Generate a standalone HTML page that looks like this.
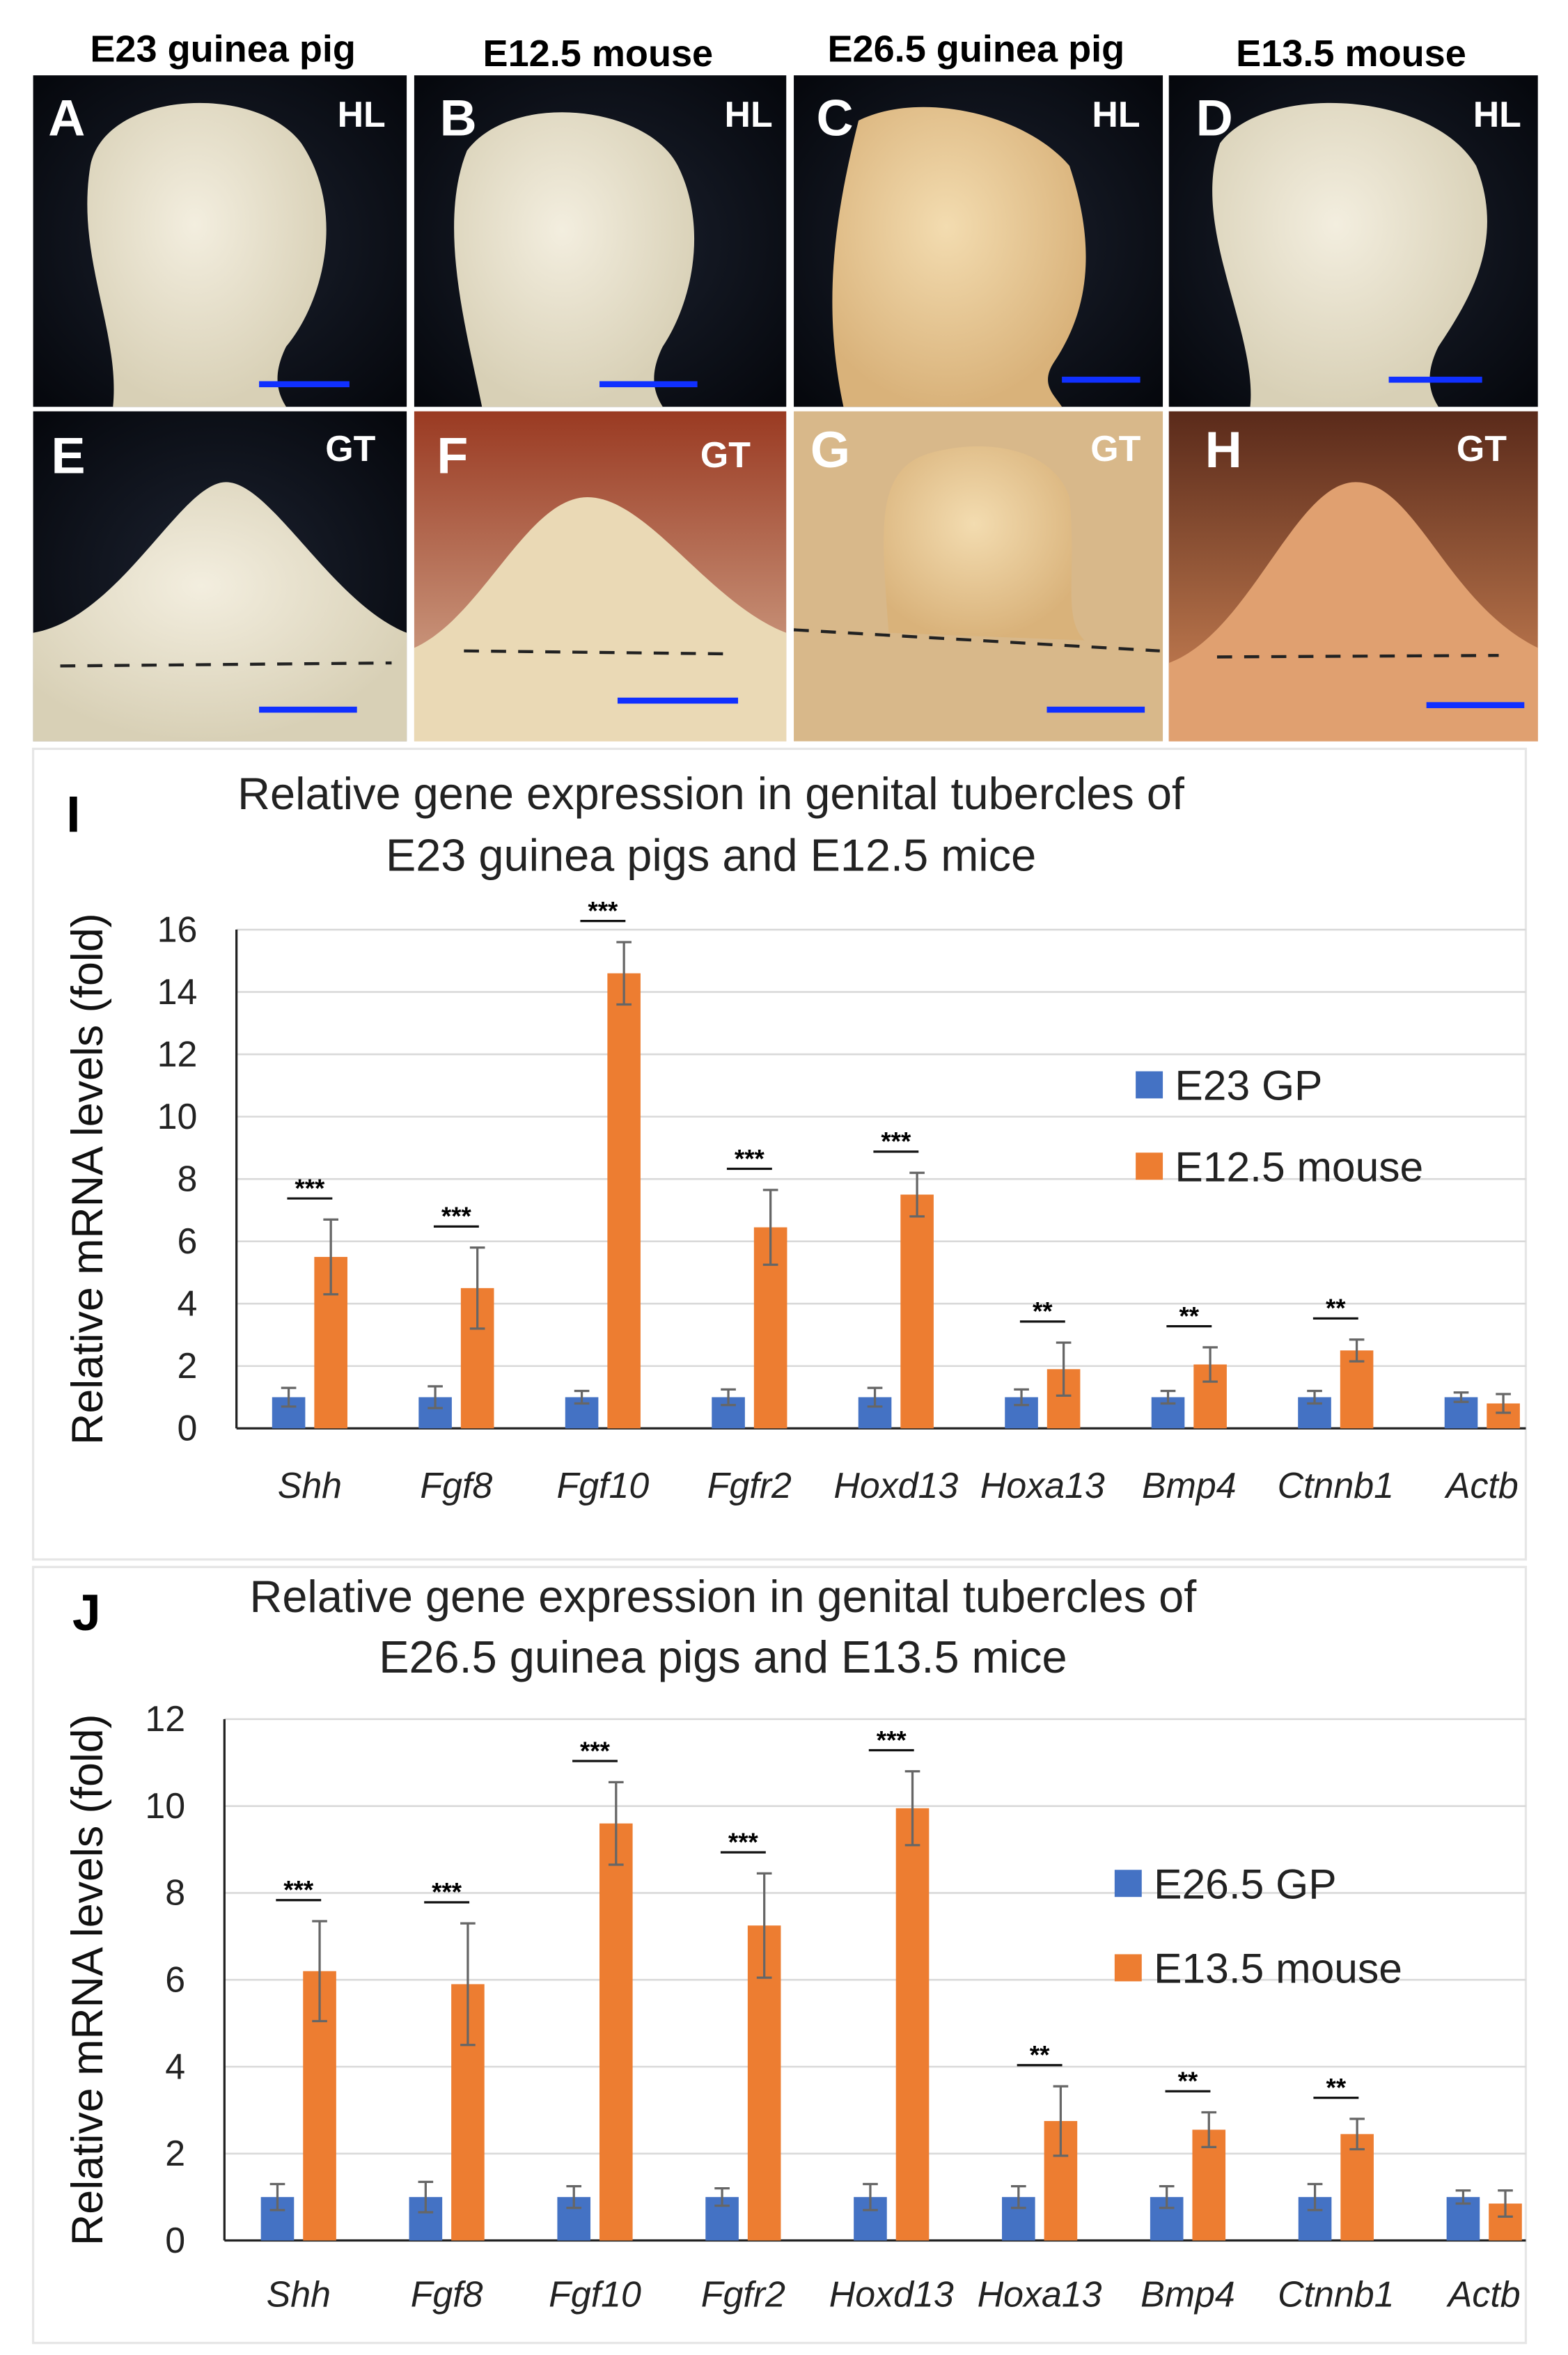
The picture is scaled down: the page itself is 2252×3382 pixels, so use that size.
<!DOCTYPE html>
<html><head><meta charset="utf-8"><style>
html,body{margin:0;padding:0;background:#fff}
svg{display:block}
text{font-family:"Liberation Sans",sans-serif}
</style></head><body>
<svg id="fig" width="2252" height="3382" viewBox="0 0 1041 1563" preserveAspectRatio="none" xmlns="http://www.w3.org/2000/svg">
<defs>
<radialGradient id="darkbg" cx="50%" cy="50%" r="70%"><stop offset="0" stop-color="#1c2230"/><stop offset="1" stop-color="#05070c"/></radialGradient>
<radialGradient id="cream" cx="45%" cy="40%" r="60%"><stop offset="0" stop-color="#f3eedf"/><stop offset="1" stop-color="#d8d0b6"/></radialGradient>
<radialGradient id="tan" cx="45%" cy="40%" r="60%"><stop offset="0" stop-color="#f3dcb0"/><stop offset="1" stop-color="#d9b27a"/></radialGradient>
<linearGradient id="redbg" x1="0" y1="0" x2="0" y2="1"><stop offset="0" stop-color="#9a3a22"/><stop offset="1" stop-color="#d9b49a"/></linearGradient>
<linearGradient id="redbg2" x1="0" y1="0" x2="0" y2="1"><stop offset="0" stop-color="#5a2a1a"/><stop offset="1" stop-color="#d48a5a"/></linearGradient>
</defs>
<g id="photos">
  <g>
    <rect x="22" y="50" width="248" height="220" fill="url(#darkbg)"/>
    <path d="M75,270 C80,220 50,170 60,110 C70,60 170,55 200,95 C230,140 215,200 190,230 C180,250 185,262 190,270 Z" fill="url(#cream)"/>
    <rect x="172" y="253" width="60" height="4" fill="#1030ff"/>
  </g>
  <g>
    <rect x="275" y="50" width="247" height="220" fill="url(#darkbg)"/>
    <path d="M320,270 C310,220 290,150 310,100 C340,60 430,70 450,110 C470,150 460,200 440,230 C430,250 435,262 440,270 Z" fill="url(#cream)"/>
    <rect x="398" y="253" width="65" height="4" fill="#1030ff"/>
  </g>
  <g>
    <rect x="527" y="50" width="245" height="220" fill="url(#darkbg)"/>
    <path d="M560,270 C545,200 555,140 570,80 C610,60 680,75 710,110 C730,170 720,210 700,240 C690,255 700,262 705,270 Z" fill="url(#tan)"/>
    <rect x="705" y="250" width="52" height="4" fill="#1030ff"/>
  </g>
  <g>
    <rect x="776" y="50" width="245" height="220" fill="url(#darkbg)"/>
    <path d="M830,270 C835,220 790,150 810,95 C840,55 950,60 980,110 C1000,160 975,200 955,230 C945,250 950,262 955,270 Z" fill="url(#cream)"/>
    <rect x="922" y="250" width="62" height="4" fill="#1030ff"/>
  </g>
  <g>
    <rect x="22" y="273" width="248" height="219" fill="url(#darkbg)"/>
    <path d="M22,492 L22,420 C80,410 120,320 150,320 C180,320 220,400 270,420 L270,492 Z" fill="url(#cream)"/>
    <line x1="40" y1="442" x2="260" y2="440" stroke="#222" stroke-width="2" stroke-dasharray="10,8"/>
    <rect x="172" y="469" width="65" height="4" fill="#1030ff"/>
  </g>
  <g>
    <rect x="275" y="273" width="247" height="219" fill="url(#redbg)"/>
    <path d="M275,492 L275,430 C320,410 350,330 390,330 C430,330 470,400 522,420 L522,492 Z" fill="#ead9b5"/>
    <line x1="308" y1="432" x2="485" y2="434" stroke="#222" stroke-width="2" stroke-dasharray="10,8"/>
    <rect x="410" y="463" width="80" height="4" fill="#1030ff"/>
  </g>
  <g>
    <rect x="527" y="273" width="245" height="219" fill="#d8b88a"/>
    <path d="M590,420 C585,350 580,310 620,300 C660,290 700,300 710,330 C715,380 705,410 720,425 Z" fill="url(#tan)"/>
    <line x1="527" y1="418" x2="770" y2="432" stroke="#222" stroke-width="2" stroke-dasharray="10,8"/>
    <rect x="695" y="469" width="65" height="4" fill="#1030ff"/>
  </g>
  <g>
    <rect x="776" y="273" width="245" height="219" fill="url(#redbg2)"/>
    <path d="M776,492 L776,440 C830,420 860,320 900,320 C940,320 960,400 1021,430 L1021,492 Z" fill="#e0a070"/>
    <line x1="808" y1="436" x2="995" y2="435" stroke="#222" stroke-width="2" stroke-dasharray="10,8"/>
    <rect x="947" y="466" width="65" height="4" fill="#1030ff"/>
  </g>
  <g font-weight="bold" fill="#fff">
    <text x="32" y="90" font-size="34">A</text><text x="292" y="90" font-size="34">B</text>
    <text x="542" y="90" font-size="34">C</text><text x="794" y="90" font-size="34">D</text>
    <text x="34" y="314" font-size="34">E</text><text x="290" y="314" font-size="34">F</text>
    <text x="538" y="310" font-size="34">G</text><text x="800" y="310" font-size="34">H</text>
    <text x="224" y="84" font-size="24">HL</text><text x="481" y="84" font-size="24">HL</text>
    <text x="725" y="84" font-size="24">HL</text><text x="978" y="84" font-size="24">HL</text>
    <text x="216" y="306" font-size="24">GT</text><text x="465" y="310" font-size="24">GT</text>
    <text x="724" y="306" font-size="24">GT</text><text x="967" y="306" font-size="24">GT</text>
  </g>
  <g font-weight="bold" fill="#000" font-size="25" text-anchor="middle">
    <text x="148" y="41">E23 guinea pig</text><text x="397" y="44">E12.5 mouse</text>
    <text x="648" y="41">E26.5 guinea pig</text><text x="897" y="44">E13.5 mouse</text>
  </g>
</g>
<rect x="22" y="497" width="991" height="538" fill="none" stroke="#e6e6e6" stroke-width="1.5"/>
<rect x="22" y="1040" width="991" height="515" fill="none" stroke="#e6e6e6" stroke-width="1.5"/>
<text x="44" y="552" font-size="34" font-weight="bold">I</text>
<text x="48" y="1082" font-size="34" font-weight="bold">J</text>
<g id="chartI"></g>
<g id="chartJ"></g>
</svg>
<script>
const categories = ["Shh","Fgf8","Fgf10","Fgfr2","Hoxd13","Hoxa13","Bmp4","Ctnnb1","Actb"];
const iBlue = [1,1,1,1,1,1,1,1,1];
const iBlueErr = [0.3,0.35,0.2,0.25,0.3,0.25,0.2,0.2,0.15];
const iOrange = [5.5,4.5,14.6,6.45,7.5,1.9,2.05,2.5,0.8];
const iOrangeErr = [1.2,1.3,1.0,1.2,0.7,0.85,0.55,0.35,0.3];
const iSig = ["***","***","***","***","***","**","**","**",""];
const iTicks = [0,2,4,6,8,10,12,14,16];
const jBlue = [1,1,1,1,1,1,1,1,1];
const jBlueErr = [0.3,0.35,0.25,0.2,0.3,0.25,0.25,0.3,0.15];
const jOrange = [6.2,5.9,9.6,7.25,9.95,2.75,2.55,2.45,0.85];
const jOrangeErr = [1.15,1.4,0.95,1.2,0.85,0.8,0.4,0.35,0.3];
const jSig = ["***","***","***","***","***","**","**","**",""];
const jTicks = [0,2,4,6,8,10,12];

const NS="http://www.w3.org/2000/svg";
function mk(parent,tag,attrs,txt){const e=document.createElementNS(NS,tag);for(const k in attrs)e.setAttribute(k,attrs[k]);if(txt!==undefined)e.textContent=txt;parent.appendChild(e);return e;}

function drawChart(g,cfg){
  const yScale=v=>cfg.y0-(v/cfg.ymax)*(cfg.y0-cfg.ytop);
  const xC=i=>cfg.x1+(i+0.5)*cfg.step;
  cfg.title.forEach((t,k)=>{const e=mk(g,'text',{x:cfg.titleX[k],y:cfg.titleY[k],'font-size':30,'text-anchor':'middle',fill:'#222'},t);
    
    });
  cfg.ticks.forEach(t=>{const y=yScale(t);
    if(t>0){const l=mk(g,'line',{x1:cfg.x0,x2:1013,y1:y,y2:y,stroke:'#d9d9d9','stroke-width':1.2});
      
      }
    const e=mk(g,'text',{x:cfg.x0-26,y:y+8,'font-size':24,'text-anchor':'end',fill:'#222'},String(t));
    
    });
  const ax=mk(g,'line',{x1:cfg.x0,x2:cfg.x0,y1:cfg.ytop,y2:cfg.y0,stroke:'#222','stroke-width':1.5});
  
  
  const xa=mk(g,'line',{x1:cfg.x0,x2:1013,y1:cfg.y0,y2:cfg.y0,stroke:'#222','stroke-width':1.5});
  
  
  const yl=mk(g,'text',{x:0,y:0,'font-size':29,'text-anchor':'middle',fill:'#111',transform:`translate(${cfg.ylabX},${(cfg.y0+cfg.ytop)/2}) rotate(-90)`},'Relative mRNA levels (fold)');
  
  
  const bw=22;
  categories.forEach((c,i)=>{
    const cx=xC(i);
    const bx=cx-25, ox=cx+3;
    const b=mk(g,'rect',{x:bx,y:yScale(cfg.blue[i]),width:bw,height:cfg.y0-yScale(cfg.blue[i]),fill:'#4472c4'});
    
    
    const o=mk(g,'rect',{x:ox,y:yScale(cfg.orange[i]),width:bw,height:cfg.y0-yScale(cfg.orange[i]),fill:'#ed7d31'});
    
    
    [[bx+bw/2,cfg.blue[i],cfg.blueErr[i]],[ox+bw/2,cfg.orange[i],cfg.orangeErr[i]]].forEach(([x,v,e])=>{
      const eg=mk(g,'path',{d:`M${x},${yScale(v+e)}V${yScale(v-e)}M${x-5},${yScale(v+e)}H${x+5}M${x-5},${yScale(v-e)}H${x+5}`,stroke:'#666','stroke-width':1.5,fill:'none'});
      
      });
    if(cfg.sig[i]){const yt=yScale(cfg.orange[i]+cfg.orangeErr[i])-14;
      const ln=mk(g,'line',{x1:cx-15,x2:cx+15,y1:yt,y2:yt,stroke:'#111','stroke-width':1.5});
      
      
      const st=mk(g,'text',{x:cx,y:yt-1,'font-size':17,'font-weight':'bold','text-anchor':'middle'},cfg.sig[i]);
      
      }
    const lb=mk(g,'text',{x:cx,y:cfg.labY,'font-size':24,'font-style':'italic','text-anchor':'middle',fill:'#222'},c);
    
    
  });
  cfg.legend.forEach((t,k)=>{
    const y=cfg.legY[k];
    const r=mk(g,'rect',{x:cfg.legX,y:y-9,width:18,height:18,fill:k?'#ed7d31':'#4472c4'});
    
    
    const e=mk(g,'text',{x:cfg.legX+26,y:y+10,'font-size':28,fill:'#222'},t);
    
    
  });
}
drawChart(document.getElementById('chartI'),{x0:157,x1:157,step:97.3,y0:948,ytop:617,ymax:16,ticks:iTicks,
  blue:iBlue,blueErr:iBlueErr,orange:iOrange,orangeErr:iOrangeErr,sig:iSig,labY:994,ylabX:68,
  title:["Relative gene expression in genital tubercles of","E23 guinea pigs and E12.5 mice"],titleX:[472,472],titleY:[537,578],
  legend:["E23 GP","E12.5 mouse"],legX:754,legY:[720,774]});
drawChart(document.getElementById('chartJ'),{x0:149,x1:149,step:98.4,y0:1487,ytop:1141,ymax:12,ticks:jTicks,
  blue:jBlue,blueErr:jBlueErr,orange:jOrange,orangeErr:jOrangeErr,sig:jSig,labY:1531,ylabX:68,
  title:["Relative gene expression in genital tubercles of","E26.5 guinea pigs and E13.5 mice"],titleX:[480,480],titleY:[1070,1110],
  legend:["E26.5 GP","E13.5 mouse"],legX:740,legY:[1250,1306]});
</script>
</body></html>
